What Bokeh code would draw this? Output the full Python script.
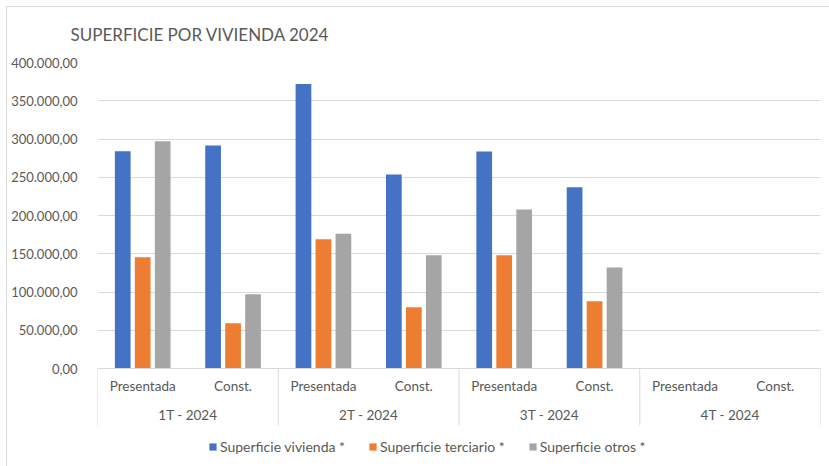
import math
from bokeh.plotting import figure
from bokeh.models import ColumnDataSource, FactorRange, Range1d, FixedTicker, Span, Legend, LegendItem
from bokeh.transform import dodge
from bokeh.core.properties import value
from bokeh.embed import file_html
from bokeh.resources import INLINE

nan = float("nan")

# ---- data ----
title_text = "SUPERFICIE POR VIVIENDA 2024"
quarters = ["1T - 2024", "2T - 2024", "3T - 2024", "4T - 2024"]
kinds = ["Presentada", "Const."]
series_names = ["Superficie vivienda *", "Superficie terciario *", "Superficie otros *"]
vivienda = [284000, 291500, 372000, 253500, 283500, 237000, nan, nan]
terciario = [145500, 59000, 169000, 80000, 148000, 88000, nan, nan]
otros = [297000, 97000, 176000, 148000, 208000, 132000, nan, nan]
y_ticks = [0, 50000, 100000, 150000, 200000, 250000, 300000, 350000, 400000]
y_tick_labels = ["0,00", "50.000,00", "100.000,00", "150.000,00", "200.000,00",
                 "250.000,00", "300.000,00", "350.000,00", "400.000,00"]

colors = ["#4472C4", "#ED7D31", "#A5A5A5"]
FONT = "Lato"
TXT = "#595959"
GRID = "#d9d9d9"

factors = [(q, k) for q in quarters for k in kinds]
src = ColumnDataSource(dict(x=factors, viv=vivienda, ter=terciario, otr=otros))

y_max = y_ticks[-1]
px_per_unit = 306 / y_max
strip = 57 / px_per_unit        # depth of the category label band below zero
frame_low = 98 / px_per_unit    # frame reaches down to the bottom of the figure (legend row inside)

p = figure(width=829, height=466,
           x_range=FactorRange(*factors, factor_padding=0, group_padding=0, range_padding=0),
           y_range=Range1d(-frame_low, y_max),
           output_backend="svg", toolbar_location=None,
           min_border_left=97, min_border_right=9, min_border_top=62, min_border_bottom=0,
           title=title_text)

p.outline_line_color = None
p.border_fill_alpha = 0
p.background_fill_color = "white"
p.xaxis.visible = False
p.xgrid.visible = False
p.ygrid.ticker = FixedTicker(ticks=y_ticks)
p.ygrid.grid_line_color = GRID
p.ygrid.grid_line_width = 1

p.yaxis.ticker = FixedTicker(ticks=y_ticks)
p.yaxis.major_label_overrides = {t: l for t, l in zip(y_ticks, y_tick_labels)}
p.yaxis.axis_line_color = None
p.yaxis.major_tick_line_color = None
p.yaxis.minor_tick_line_color = None
p.yaxis.major_label_text_font = FONT
p.yaxis.major_label_text_font_size = "13px"
p.yaxis.major_label_text_color = TXT
p.yaxis.major_label_standoff = 14

p.title.text_font = FONT
p.title.text_font_size = "17px"
p.title.text_font_style = "normal"
p.title.text_color = TXT
p.title.align = "left"
p.title.offset = -27
p.title.standoff = 35

# bars
step = 0.221
bw = 0.174
renderers = []
for i, (col, c) in enumerate(zip(["viv", "ter", "otr"], colors)):
    r = p.vbar(x=dodge("x", (i - 1) * step, range=p.x_range), top=col, bottom=0, width=bw,
               source=src, fill_color=c, line_color=None)
    renderers.append(r)

# axis line
p.add_layout(Span(location=0, dimension="width", line_color=GRID, line_width=1))

# category separators
sep_x = [(q, kinds[0], -0.5) for q in quarters] + [(quarters[-1], kinds[-1], 0.5)]
sep_src = ColumnDataSource(dict(x=sep_x, y0=[0] * len(sep_x), y1=[-strip] * len(sep_x)))
p.segment(x0="x", x1="x", y0="y0", y1="y1", source=sep_src, line_color=GRID, line_width=1)

# leaf labels
leaf_src = ColumnDataSource(dict(x=factors, y=[-strip * 0.315] * len(factors), t=[f[1] for f in factors]))
p.text(x="x", y="y", text="t", source=leaf_src, text_font=value(FONT), text_font_size="13.5px",
       text_color=TXT, text_align="center", text_baseline="middle")

# group labels
grp_x = [(q, kinds[0], 0.5) for q in quarters]
grp_src = ColumnDataSource(dict(x=grp_x, y=[-strip * 0.82] * len(quarters), t=quarters))
p.text(x="x", y="y", text="t", source=grp_src, text_font=value(FONT), text_font_size="13.5px",
       text_color=TXT, text_align="center", text_baseline="middle")

legend = Legend(items=[LegendItem(label=n, renderers=[r]) for n, r in zip(series_names, renderers)],
                orientation="horizontal", location=(111, 11),
                glyph_width=9, glyph_height=9, label_standoff=3, spacing=23,
                padding=0, margin=0, border_line_color=None, background_fill_alpha=0,
                label_text_font=FONT, label_text_font_size="14px", label_text_color=TXT)
p.add_layout(legend)

# outer chart border (left and top edges, as in the reference)
p.styles = {
    "background-color": "white",
    "background-image": "linear-gradient(#d9d9d9, #d9d9d9), linear-gradient(#d9d9d9, #d9d9d9)",
    "background-position": "6px 6px, 6px 6px",
    "background-size": "1px 100%, 100% 1px",
    "background-repeat": "no-repeat, no-repeat",
}

open("out.html", "w").write(file_html(p, INLINE))
